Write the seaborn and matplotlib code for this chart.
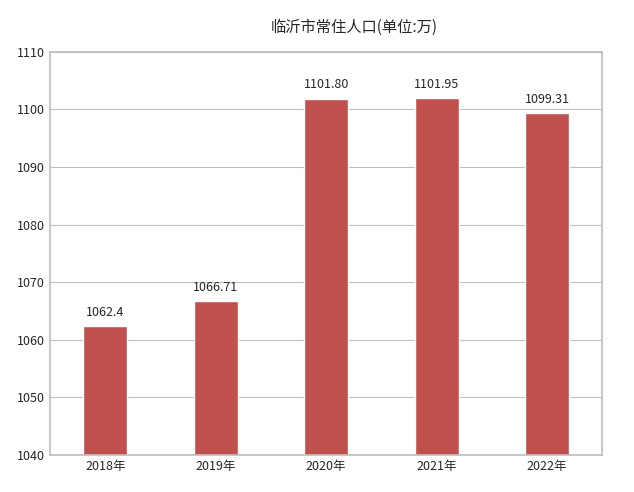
import seaborn as sns
import matplotlib.pyplot as plt
import pandas as pd

sns.set_theme(style="white")
plt.rcParams['font.family'] = ['Noto Sans CJK SC', 'DejaVu Sans']

years = ["2018年", "2019年", "2020年", "2021年", "2022年"]
population = [1062.4, 1066.71, 1101.80, 1101.95, 1099.31]
labels = ["1062.4", "1066.71", "1101.80", "1101.95", "1099.31"]

data = pd.DataFrame({"year": years, "pop": population})

f, ax = plt.subplots(figsize=(6.34, 4.92), dpi=100)
plt.subplots_adjust(left=0.079, right=0.95, top=0.895, bottom=0.075)

sns.barplot(data=data, x="year", y="pop", color="#C0504D", saturation=1, width=0.4, ax=ax)
for p, lab in zip(ax.patches, labels):
    ax.text(p.get_x() + p.get_width() / 2, p.get_height() + 1.3, lab,
            ha="center", va="bottom", fontsize=9)

ax.set_ylim(1040, 1110)
ax.set_yticks(range(1040, 1111, 10))
ax.yaxis.grid(True, color="#bfbfbf", linewidth=0.8)
ax.set_axisbelow(True)
for s in ax.spines.values():
    s.set_color("#bfbfbf")
ax.set_xlabel("")
ax.set_ylabel("")
ax.tick_params(axis="both", labelsize=9, length=0)
ax.set_title("临沂市常住人口(单位:万)", fontsize=11, pad=14, x=0.55)

plt.savefig("out.png", dpi=100)
